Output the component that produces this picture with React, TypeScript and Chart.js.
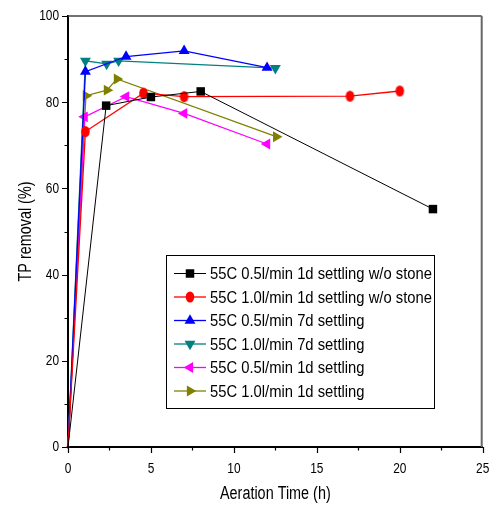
import React, { useEffect, useRef } from "react";
import { Chart, registerables } from "chart.js";

Chart.register(...registerables);

const seriesLabels = [
  "55C 0.5l/min 1d settling w/o stone",
  "55C 1.0l/min 1d settling w/o stone",
  "55C 0.5l/min 7d settling",
  "55C 1.0l/min 7d settling",
  "55C 0.5l/min 1d settling",
  "55C 1.0l/min 1d settling",
];

const blackX = [0, 2.3, 5.0, 8.0, 22.0];
const blackY = [0, 79.2, 81.2, 82.5, 55.2];
const redX = [0, 1.05, 4.55, 7.0, 17.0, 20.0];
const redY = [0, 73.2, 82.1, 81.3, 81.4, 82.6];
const blueX = [0, 1.05, 3.5, 7.0, 12.0];
const blueY = [0, 87.1, 90.6, 91.9, 88.0];
const tealX = [0, 1.05, 2.33, 3.05, 12.5];
const tealY = [0, 89.6, 88.9, 89.6, 87.9];
const magentaX = [0, 1.0, 3.5, 7.0, 12.0];
const magentaY = [0, 76.6, 81.3, 77.4, 70.3];
const oliveX = [0, 1.08, 2.35, 2.95, 12.55];
const oliveY = [0, 81.5, 82.8, 85.4, 72.0];

const xMajorTicks = [0, 5, 10, 15, 20, 25];
const xMinorTicks = [2.5, 7.5, 12.5, 17.5, 22.5];
const yMajorTicks = [0, 20, 40, 60, 80, 100];
const yMinorTicks = [10, 30, 50, 70, 90];

const xTitle = "Aeration Time (h)";
const yTitle = "TP removal (%)";

const colors = ["#000000", "#ff0000", "#0000ff", "#008080", "#ff00ff", "#808000"];
const pointStyles = ["rect", "ellipse", "triangle", "triangle", "triangle", "triangle"];
const rotations = [0, 0, 0, 180, 270, 90];
const radii = [6, 5.5, 6.3, 6.3, 6.3, 6.3];
const lineWidths = [1, 1.3, 1.3, 1.3, 1.3, 1.3];

const xs = [blackX, redX, blueX, tealX, magentaX, oliveX];
const ys = [blackY, redY, blueY, tealY, magentaY, oliveY];

const FONT = "'Liberation Sans', Arial, sans-serif";

function drawText(
  ctx: CanvasRenderingContext2D,
  text: string,
  x: number,
  y: number,
  size: number,
  sx: number,
  align: CanvasTextAlign,
  rot = 0
) {
  ctx.save();
  ctx.translate(x, y);
  if (rot) ctx.rotate(rot);
  ctx.scale(sx, 1);
  ctx.font = size + "px " + FONT;
  ctx.textAlign = align;
  ctx.textBaseline = "middle";
  ctx.fillStyle = "#000000";
  ctx.fillText(text, 0, 0);
  ctx.restore();
}

function drawMarker(ctx: CanvasRenderingContext2D, style: string, r: number, x: number, y: number, rot: number) {
  ctx.save();
  ctx.translate(x, y);
  ctx.rotate((rot * Math.PI) / 180);
  ctx.beginPath();
  if (style === "rect") {
    const s = r * Math.SQRT1_2;
    ctx.rect(-s, -s, 2 * s, 2 * s);
  } else if (style === "ellipse") {
    ctx.ellipse(0, 0, r * 0.78, r, 0, 0, Math.PI * 2);
  } else {
    ctx.moveTo(0, -r);
    ctx.lineTo(r * Math.sin(Math.PI / 3), r * 0.5);
    ctx.lineTo(-r * Math.sin(Math.PI / 3), r * 0.5);
    ctx.closePath();
  }
  ctx.fill();
  ctx.restore();
}

function makeEllipseImage(color: string, r: number): HTMLCanvasElement {
  const c = document.createElement("canvas");
  const w = Math.ceil(r * 2 + 2);
  c.width = w;
  c.height = w;
  const cx = c.getContext("2d")!;
  cx.fillStyle = color;
  drawMarker(cx, "ellipse", r, w / 2, w / 2, 0);
  return c;
}

const decorPlugin = {
  id: "decor",
  afterDraw(chart: any) {
    const ctx: CanvasRenderingContext2D = chart.ctx;
    const area = chart.chartArea;
    const xs_ = chart.scales.x;
    const ys_ = chart.scales.y;
    ctx.save();
    // frame top/right
    ctx.strokeStyle = "#444444";
    ctx.lineWidth = 1.6;
    ctx.beginPath();
    ctx.moveTo(area.left, area.top);
    ctx.lineTo(area.right - 1, area.top);
    ctx.stroke();
    ctx.strokeStyle = "#666666";
    ctx.lineWidth = 2;
    ctx.beginPath();
    ctx.moveTo(area.right - 1, area.top);
    ctx.lineTo(area.right - 1, area.bottom);
    ctx.stroke();

    // ticks
    ctx.strokeStyle = "#000000";
    ctx.lineWidth = 1.2;
    ctx.beginPath();
    for (const v of xMajorTicks) {
      const px = Math.round(xs_.getPixelForValue(v)) + 0.5;
      ctx.moveTo(px, area.bottom);
      ctx.lineTo(px, area.bottom + 6);
    }
    for (const v of xMinorTicks) {
      const px = Math.round(xs_.getPixelForValue(v)) + 0.5;
      ctx.moveTo(px, area.bottom);
      ctx.lineTo(px, area.bottom + 3.5);
    }
    for (const v of yMajorTicks) {
      const py = Math.round(ys_.getPixelForValue(v)) + 0.5;
      ctx.moveTo(area.left, py);
      ctx.lineTo(area.left - 6, py);
    }
    for (const v of yMinorTicks) {
      const py = Math.round(ys_.getPixelForValue(v)) + 0.5;
      ctx.moveTo(area.left, py);
      ctx.lineTo(area.left - 3.5, py);
    }
    ctx.stroke();

    // tick labels
    for (const v of xMajorTicks) {
      drawText(ctx, String(v), xs_.getPixelForValue(v), area.bottom + 22, 14, 0.85, "center");
    }
    for (const v of yMajorTicks) {
      drawText(ctx, String(v), area.left - 9, ys_.getPixelForValue(v) + 0.5, 14, 0.85, "right");
    }
    // titles
    drawText(ctx, xTitle, (area.left + area.right) / 2, 494, 18, 0.8, "center");
    drawText(ctx, yTitle, 26, (area.top + area.bottom) / 2, 18, 0.8, "center", -Math.PI / 2);

    // legend box
    const bx = 166, by = 255, bw = 268, bh = 153;
    ctx.fillStyle = "#ffffff";
    ctx.fillRect(bx, by, bw, bh);
    ctx.strokeStyle = "#000000";
    ctx.lineWidth = 1;
    ctx.strokeRect(bx + 0.5, by + 0.5, bw, bh);
    const rowY0 = 273.5;
    const rowH = 23.5;
    for (let i = 0; i < seriesLabels.length; i++) {
      const y = rowY0 + i * rowH;
      ctx.strokeStyle = colors[i];
      ctx.lineWidth = lineWidths[i];
      ctx.beginPath();
      ctx.moveTo(174, y);
      ctx.lineTo(206, y);
      ctx.stroke();
      ctx.fillStyle = colors[i];
      drawMarker(ctx, pointStyles[i], radii[i], 190, y, rotations[i]);
      drawText(ctx, seriesLabels[i], 210, y + 1, 17, 0.87, "left");
    }
    ctx.restore();
  },
};

export default function App() {
  const ref = useRef<HTMLCanvasElement>(null);
  useEffect(() => {
    if (!ref.current) return;
    const datasets = seriesLabels.map((label, i) => {
      const style: any =
        pointStyles[i] === "ellipse" ? makeEllipseImage(colors[i], radii[i]) : pointStyles[i];
      return {
        label,
        data: xs[i].map((x, j) => ({ x, y: ys[i][j] })),
        borderColor: colors[i],
        backgroundColor: colors[i],
        borderWidth: lineWidths[i],
        pointStyle: (c: any) => (c.dataIndex === 0 && pointStyles[i] === "ellipse" ? "circle" : style),
        pointRotation: rotations[i],
        pointRadius: (c: any) => (c.dataIndex === 0 ? 1.5 : radii[i]),
        pointBorderWidth: 0,
        showLine: true,
        tension: 0,
        clip: false as any,
      };
    });
    const chart = new Chart(ref.current, {
      type: "scatter",
      data: { datasets },
      options: {
        responsive: false,
        animation: false,
        layout: { padding: { top: 16, right: 3, left: 0, bottom: 0 } },
        plugins: { legend: { display: false }, tooltip: { enabled: false } },
        scales: {
          x: {
            type: "linear",
            min: 0,
            max: 25,
            afterFit: (s: any) => {
              s.height = 62;
              s.paddingLeft = 0;
              s.paddingRight = 0;
            },
            border: { display: true, color: "#000000", width: 2 },
            grid: { display: false },
            ticks: { display: false, stepSize: 5 },
          },
          y: {
            type: "linear",
            min: 0,
            max: 100,
            afterFit: (s: any) => {
              s.width = 68;
              s.paddingTop = 0;
              s.paddingBottom = 0;
            },
            border: { display: true, color: "#000000", width: 2 },
            grid: { display: false },
            ticks: { display: false, stepSize: 20 },
          },
        },
      },
      plugins: [decorPlugin],
    });
    return () => chart.destroy();
  }, []);
  return (
    <div style={{ position: "fixed", left: 0, top: 0, width: 489, height: 509, background: "#fff" }}>
      <canvas ref={ref} width={489} height={509} style={{ width: 489, height: 509 }} />
    </div>
  );
}
